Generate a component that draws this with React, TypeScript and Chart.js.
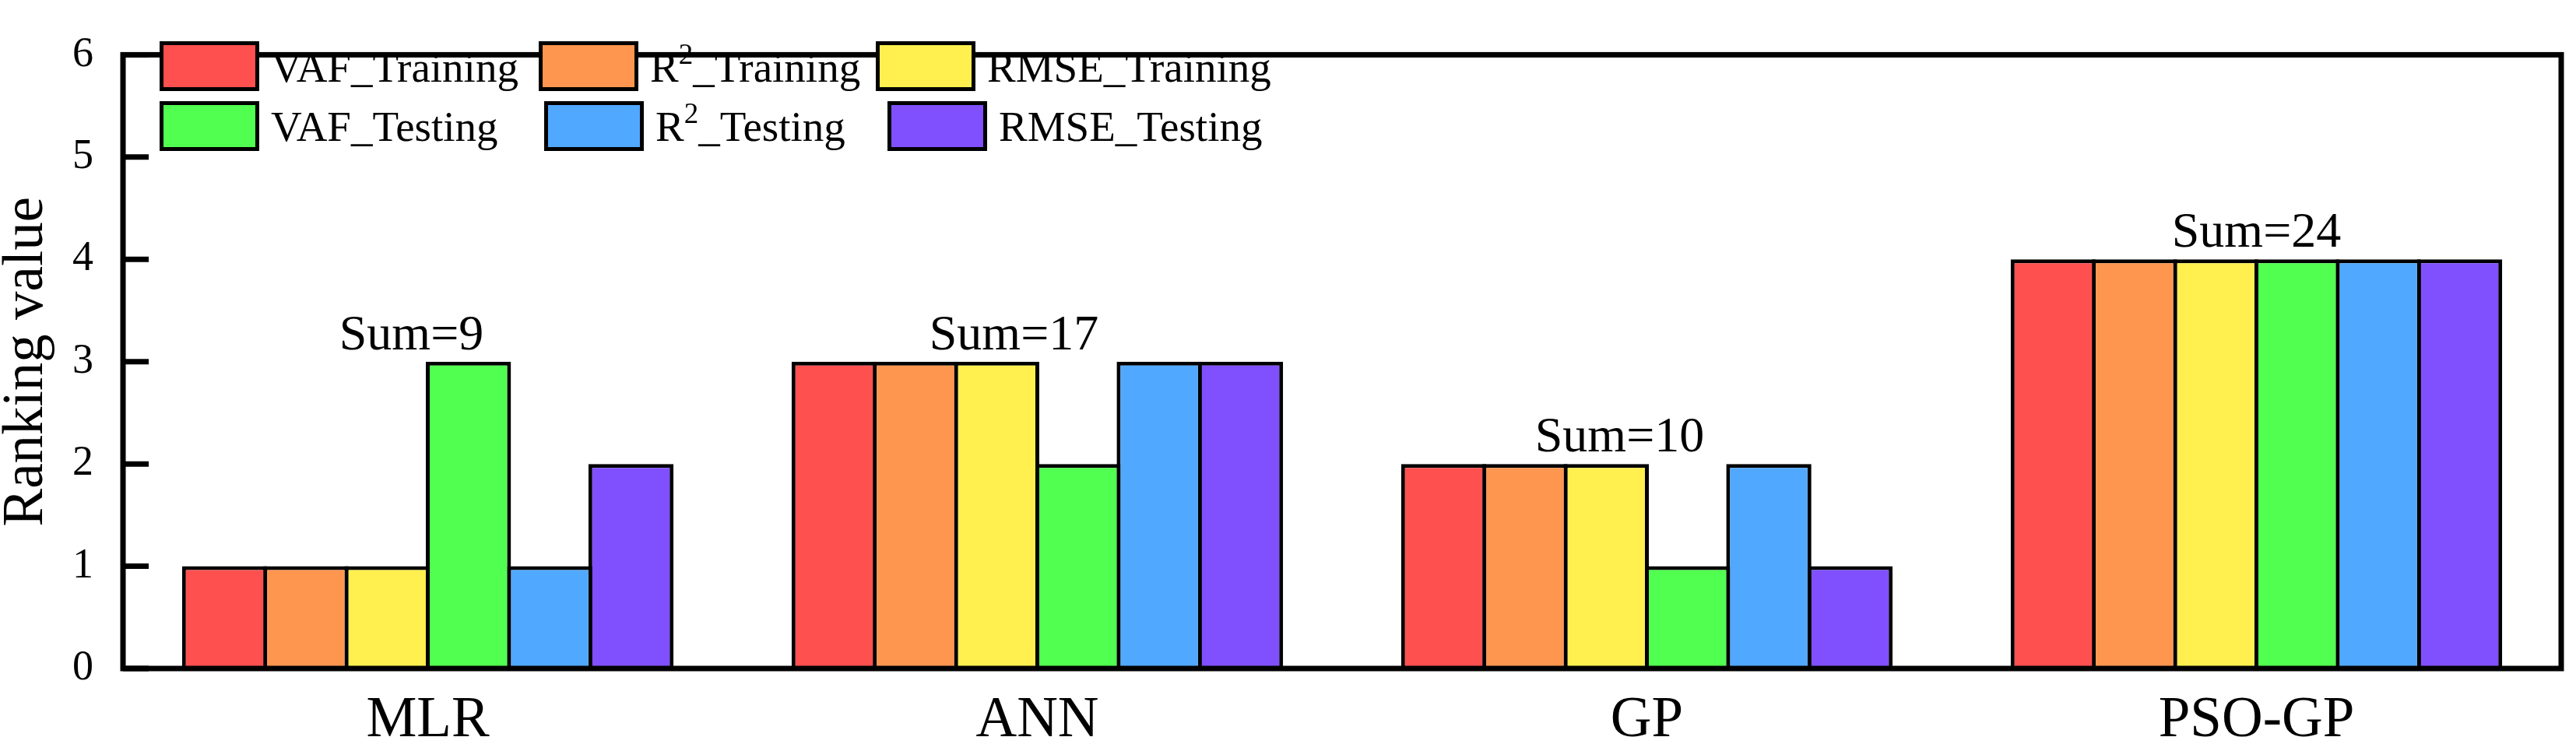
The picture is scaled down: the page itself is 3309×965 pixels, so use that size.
import React, { useEffect, useRef } from "react";
import { Chart, registerables } from "chart.js";

Chart.register(...registerables);

// ---------------- data ----------------
const categories = ["MLR", "ANN", "GP", "PSO-GP"];
const seriesLabels = [
  "VAF_Training",
  "R²_Training",
  "RMSE_Training",
  "VAF_Testing",
  "R²_Testing",
  "RMSE_Testing",
];
const vafTraining = [1, 3, 2, 4];
const r2Training = [1, 3, 2, 4];
const rmseTraining = [1, 3, 2, 4];
const vafTesting = [3, 2, 1, 4];
const r2Testing = [1, 3, 2, 4];
const rmseTesting = [2, 3, 1, 4];
const seriesColors = ["#FF5050", "#FF964F", "#FFF04F", "#50FF4F", "#50A8FF", "#8050FF"];
const yMin = 0;
const yMax = 6;
const yStep = 1;
const yTitle = "Ranking value";

// ---------------- layout / style ----------------
const FONT = '"Liberation Serif", "Times New Roman", Times, serif';
const W = 3309;
const H = 965;
const LEGEND_ROWS = [
  { top: 53, baseline: 105 },
  { top: 130, baseline: 181 },
];
const LEGEND_BOX_X = [
  [205, 692, 1125],
  [205, 699, 1140],
];
const LEGEND_BOX_W = 128;
const LEGEND_BOX_H = 64;
const SUM_DX = [-21, -30, -35, 0];

function drawSupText(ctx: CanvasRenderingContext2D, text: string, x: number, baseline: number, size: number) {
  const parts = text.split("²");
  ctx.font = `${size}px ${FONT}`;
  ctx.fillText(parts[0], x, baseline);
  let cx = x + ctx.measureText(parts[0]).width;
  if (parts.length > 1) {
    const sup = Math.round(size * 0.67);
    ctx.font = `${sup}px ${FONT}`;
    ctx.fillText("2", cx, baseline - size * 0.42);
    cx += ctx.measureText("2").width;
    ctx.font = `${size}px ${FONT}`;
    ctx.fillText(parts[1], cx, baseline);
  }
}

const decorPlugin = {
  id: "decor",
  afterDatasetsDraw(chart: any) {
    const ctx: CanvasRenderingContext2D = chart.ctx;
    const { left, right, top, bottom } = chart.chartArea;
    const xs = chart.scales.x;
    const ys = chart.scales.y;
    ctx.save();
    ctx.strokeStyle = "#000";
    ctx.fillStyle = "#000";

    // inward x ticks at category centres
    ctx.lineWidth = 5;
    categories.forEach((_, i) => {
      const px = xs.getPixelForValue(i);
      ctx.beginPath();
      ctx.moveTo(px, bottom);
      ctx.lineTo(px, bottom - 32);
      ctx.stroke();
    });

    // inward y ticks
    ctx.lineWidth = 7;
    ys.ticks.forEach((t: any) => {
      const py = ys.getPixelForValue(t.value);
      ctx.beginPath();
      ctx.moveTo(left, py);
      ctx.lineTo(left + 33, py);
      ctx.stroke();
    });

    // frame
    ctx.lineWidth = 7;
    ctx.lineJoin = "miter";
    ctx.strokeRect(left, top, right - left, bottom - top);

    // sum labels
    ctx.font = `64px ${FONT}`;
    ctx.textAlign = "center";
    ctx.textBaseline = "alphabetic";
    categories.forEach((_, i) => {
      const vals = chart.data.datasets.map((d: any) => d.data[i] as number);
      const sum = vals.reduce((a: number, b: number) => a + b, 0);
      const mx = Math.max(...vals);
      const px = xs.getPixelForValue(i) + SUM_DX[i];
      const py = ys.getPixelForValue(mx) - 16;
      ctx.fillText(`Sum=${sum}`, px, py);
    });

    // legend
    ctx.textAlign = "left";
    chart.data.datasets.forEach((d: any, i: number) => {
      const row = Math.floor(i / 3);
      const col = i % 3;
      const bx = LEGEND_BOX_X[row][col];
      const by = LEGEND_ROWS[row].top;
      ctx.fillStyle = d.backgroundColor;
      ctx.fillRect(bx, by, LEGEND_BOX_W, LEGEND_BOX_H);
      ctx.lineWidth = 5;
      ctx.strokeStyle = "#000";
      ctx.strokeRect(bx + 2.5, by + 2.5, LEGEND_BOX_W - 5, LEGEND_BOX_H - 5);
      ctx.fillStyle = "#000";
      drawSupText(ctx, d.label, bx + LEGEND_BOX_W + 15, LEGEND_ROWS[row].baseline, 55);
    });

    ctx.restore();
  },
};

export default function App() {
  const ref = useRef<HTMLCanvasElement | null>(null);

  useEffect(() => {
    document.body.style.margin = "0";
    const canvas = ref.current;
    if (!canvas) return;
    const seriesData = [vafTraining, r2Training, rmseTraining, vafTesting, r2Testing, rmseTesting];
    const chart = new Chart(canvas, {
      type: "bar",
      data: {
        labels: categories,
        datasets: seriesData.map((vals, i) => ({
          label: seriesLabels[i],
          data: vals,
          backgroundColor: seriesColors[i],
          borderColor: "#000",
          borderWidth: 5,
          barPercentage: 1.048,
          categoryPercentage: 0.8,
        })),
      },
      options: {
        responsive: false,
        animation: false,
        devicePixelRatio: 1,
        layout: { padding: { left: 0, right: 19, top: 37, bottom: 0 } },
        plugins: {
          legend: { display: false },
          tooltip: { enabled: false },
        },
        scales: {
          x: {
            grid: { display: false, drawTicks: false },
            border: { display: false },
            ticks: {
              color: "#000",
              padding: 24,
              font: { family: FONT, size: 73 },
              maxRotation: 0,
              autoSkip: false,
            },
            afterFit: (scale: any) => {
              scale.height = 106;
            },
          },
          y: {
            min: yMin,
            max: yMax,
            grid: { display: false, drawTicks: false },
            border: { display: false },
            ticks: {
              stepSize: yStep,
              color: "#000",
              padding: 38,
              font: { family: FONT, size: 54 },
              autoSkip: false,
            },
            title: {
              display: true,
              text: yTitle,
              color: "#000",
              padding: 0,
              font: { family: FONT, size: 73, lineHeight: 0.96 },
            },
            afterFit: (scale: any) => {
              scale.width = 158;
            },
          },
        },
      },
      plugins: [decorPlugin],
    });
    return () => chart.destroy();
  }, []);

  return (
    <div style={{ position: "absolute", left: 0, top: 0, width: W, height: H, background: "#fff" }}>
      <canvas ref={ref} width={W} height={H} style={{ display: "block" }} />
    </div>
  );
}
